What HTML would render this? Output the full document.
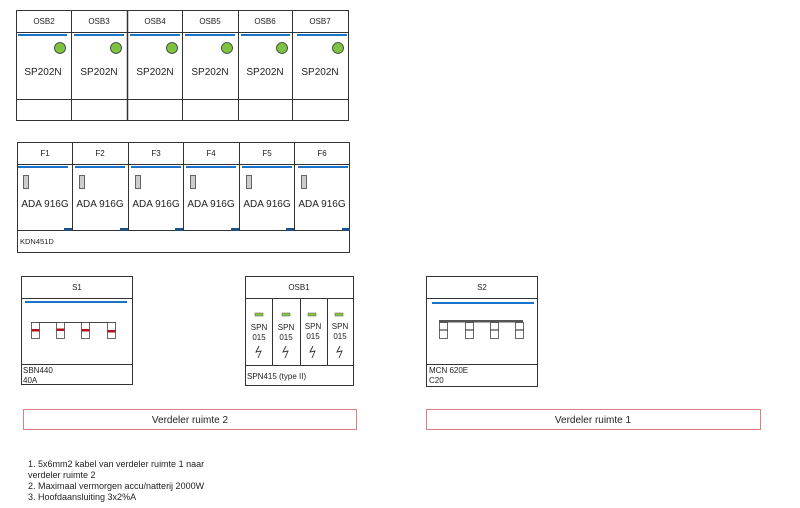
<!DOCTYPE html>
<html><head><meta charset="utf-8"><style>
body{margin:0;background:#fff;}
svg{display:block;font-family:"Liberation Sans",sans-serif;}
text{fill:#222;}
</style></head><body>
<svg width="800" height="508" viewBox="0 0 800 508" xmlns="http://www.w3.org/2000/svg">
<g fill="none" stroke="#333" stroke-width="1">
<!-- top block -->
<rect x="16.5" y="10.5" width="332" height="110"/>
<line x1="16" y1="32.5" x2="349" y2="32.5"/>
<line x1="16" y1="99.5" x2="349" y2="99.5"/>
<line x1="71.5" y1="10" x2="71.5" y2="120"/>
<line x1="127.5" y1="10" x2="127.5" y2="120" stroke-width="1.5"/>
<line x1="182.5" y1="10" x2="182.5" y2="120"/>
<line x1="238.5" y1="10" x2="238.5" y2="120"/>
<line x1="292.5" y1="10" x2="292.5" y2="120"/>
<!-- F block -->
<rect x="17.5" y="142.5" width="332" height="110"/>
<line x1="17" y1="164.5" x2="350" y2="164.5"/>
<line x1="17" y1="230.5" x2="350" y2="230.5"/>
<line x1="72.5" y1="142" x2="72.5" y2="230"/>
<line x1="128.5" y1="142" x2="128.5" y2="230"/>
<line x1="183.5" y1="142" x2="183.5" y2="230"/>
<line x1="239.5" y1="142" x2="239.5" y2="230"/>
<line x1="294.5" y1="142" x2="294.5" y2="230"/>
<!-- S1 -->
<rect x="21.5" y="276.5" width="111" height="108"/>
<line x1="21" y1="298.5" x2="133" y2="298.5"/>
<line x1="21" y1="364.5" x2="133" y2="364.5"/>
<!-- OSB1 -->
<rect x="245.5" y="276.5" width="108" height="109"/>
<line x1="245" y1="298.5" x2="354" y2="298.5"/>
<line x1="245" y1="365.5" x2="354" y2="365.5"/>
<line x1="272.5" y1="298" x2="272.5" y2="365"/>
<line x1="300.5" y1="298" x2="300.5" y2="365"/>
<line x1="327.5" y1="298" x2="327.5" y2="365"/>
<!-- S2 -->
<rect x="426.5" y="276.5" width="111" height="110"/>
<line x1="426" y1="298.5" x2="538" y2="298.5"/>
<line x1="426" y1="364.5" x2="538" y2="364.5"/>
</g>
<!-- red boxes -->
<rect x="23.5" y="409.5" width="333" height="20" fill="none" stroke="#d98080"/>
<rect x="426.5" y="409.5" width="334" height="20" fill="none" stroke="#d98080"/>

<!-- top block contents -->
<g font-size="8" text-anchor="middle">
<text x="44" y="24">OSB2</text><text x="99" y="24">OSB3</text><text x="155" y="24">OSB4</text>
<text x="210" y="24">OSB5</text><text x="265" y="24">OSB6</text><text x="320" y="24">OSB7</text>
</g>
<g stroke="#1a73c8" stroke-width="2">
<line x1="18" y1="35" x2="67" y2="35"/><line x1="74" y1="35" x2="124" y2="35"/>
<line x1="130" y1="35" x2="180" y2="35"/><line x1="185" y1="35" x2="235" y2="35"/>
<line x1="241" y1="35" x2="290" y2="35"/><line x1="297" y1="35" x2="347" y2="35"/>
</g>
<g fill="#7dc242" stroke="#333" stroke-width="0.8">
<circle cx="60" cy="48" r="5.5"/><circle cx="116" cy="48" r="5.5"/><circle cx="172" cy="48" r="5.5"/>
<circle cx="227" cy="48" r="5.5"/><circle cx="282" cy="48" r="5.5"/><circle cx="338" cy="48" r="5.5"/>
</g>
<g font-size="10" text-anchor="middle">
<text x="43" y="75">SP202N</text><text x="99" y="75">SP202N</text><text x="155" y="75">SP202N</text>
<text x="210" y="75">SP202N</text><text x="265" y="75">SP202N</text><text x="320" y="75">SP202N</text>
</g>

<!-- F block contents -->
<g font-size="8" text-anchor="middle">
<text x="45" y="156">F1</text><text x="100" y="156">F2</text><text x="156" y="156">F3</text>
<text x="211" y="156">F4</text><text x="267" y="156">F5</text><text x="322" y="156">F6</text>
</g>
<g stroke="#1a73c8" stroke-width="2">
<line x1="18" y1="167" x2="68" y2="167"/><line x1="75" y1="167" x2="125" y2="167"/>
<line x1="131" y1="167" x2="181" y2="167"/><line x1="186" y1="167" x2="236" y2="167"/>
<line x1="242" y1="167" x2="292" y2="167"/><line x1="298" y1="167" x2="348" y2="167"/>
</g>
<g fill="#ccc" stroke="#444" stroke-width="0.8">
<rect x="23.5" y="175.5" width="5" height="13"/><rect x="79.5" y="175.5" width="5" height="13"/>
<rect x="135.5" y="175.5" width="5" height="13"/><rect x="190.5" y="175.5" width="5" height="13"/>
<rect x="246.5" y="175.5" width="5" height="13"/><rect x="301.5" y="175.5" width="5" height="13"/>
</g>
<g fill="#1d4f8a">
<rect x="64" y="228" width="8" height="3"/><rect x="120" y="228" width="8" height="3"/>
<rect x="175" y="228" width="8" height="3"/><rect x="231" y="228" width="8" height="3"/>
<rect x="286" y="228" width="8" height="3"/><rect x="342" y="228" width="8" height="3"/>
</g>
<g font-size="10" text-anchor="middle">
<text x="45" y="207">ADA 916G</text><text x="100" y="207">ADA 916G</text><text x="156" y="207">ADA 916G</text>
<text x="211" y="207">ADA 916G</text><text x="267" y="207">ADA 916G</text><text x="322" y="207">ADA 916G</text>
</g>
<text x="20" y="244" font-size="7.5">KDN451D</text>

<!-- S1 -->
<text x="77" y="290" font-size="8" text-anchor="middle">S1</text>
<line x1="25" y1="302" x2="127" y2="302" stroke="#1a73c8" stroke-width="2"/>
<line x1="31" y1="322.5" x2="116" y2="322.5" stroke="#444"/>
<g fill="#fff" stroke="#444" stroke-width="0.8">
<rect x="31.5" y="322.5" width="8" height="16"/><rect x="56.5" y="322.5" width="8" height="16"/>
<rect x="81.5" y="322.5" width="8" height="16"/><rect x="107.5" y="322.5" width="8" height="16"/>
</g>
<g fill="#b3121b">
<rect x="31.5" y="329" width="8" height="2.5"/><rect x="56.5" y="328.5" width="8" height="2.5"/>
<rect x="81.5" y="329" width="8" height="2.5"/><rect x="107.5" y="330" width="8" height="2.5"/>
</g>
<text x="23" y="373" font-size="8">SBN440</text>
<text x="23" y="383" font-size="8">40A</text>

<!-- OSB1 -->
<text x="299" y="290" font-size="8" text-anchor="middle">OSB1</text>
<g fill="#8cc63f" stroke="#555" stroke-width="0.5">
<rect x="255" y="313" width="8" height="3"/><rect x="282" y="313" width="8" height="3"/>
<rect x="308" y="313" width="8" height="3"/><rect x="335" y="313" width="8" height="3"/>
</g>
<g font-size="8" text-anchor="middle">
<text x="259" y="330">SPN</text><text x="286" y="330">SPN</text><text x="313" y="329">SPN</text><text x="340" y="329">SPN</text>
<text x="259" y="340">015</text><text x="286" y="340">015</text><text x="313" y="339">015</text><text x="340" y="339">015</text>
</g>
<g fill="none" stroke="#333" stroke-width="0.9">
<path d="M259 346 L256 352 L261 351 L258 358"/><path d="M286 346 L283 352 L288 351 L285 358"/>
<path d="M313 346 L310 352 L315 351 L312 358"/><path d="M340 346 L337 352 L342 351 L339 358"/>
</g>
<text x="247" y="379" font-size="8">SPN415 (type II)</text>

<!-- S2 -->
<text x="482" y="290" font-size="8" text-anchor="middle">S2</text>
<line x1="432" y1="303" x2="534" y2="303" stroke="#1a73c8" stroke-width="2"/>
<rect x="439" y="320" width="84" height="2.5" fill="#555"/>
<g fill="#fff" stroke="#444" stroke-width="0.8">
<rect x="439.5" y="322.5" width="8" height="16"/><rect x="465.5" y="322.5" width="8" height="16"/>
<rect x="490.5" y="322.5" width="8" height="16"/><rect x="515.5" y="322.5" width="8" height="16"/>
</g>
<g stroke="#444" stroke-width="1.2">
<line x1="439" y1="330" x2="448" y2="330"/><line x1="465" y1="330" x2="474" y2="330"/>
<line x1="490" y1="330" x2="499" y2="330"/><line x1="515" y1="330" x2="524" y2="330"/>
</g>
<text x="429" y="373" font-size="8">MCN 620E</text>
<text x="429" y="383" font-size="8">C20</text>

<!-- verdeler labels -->
<text x="190" y="423" font-size="10" text-anchor="middle">Verdeler ruimte 2</text>
<text x="593" y="423" font-size="10" text-anchor="middle">Verdeler ruimte 1</text>

<!-- notes -->
<g font-size="9">
<text x="28" y="467">1. 5x6mm2 kabel van verdeler ruimte 1 naar</text>
<text x="28" y="478">verdeler ruimte 2</text>
<text x="28" y="489">2. Maximaal vermorgen accu/natterij 2000W</text>
<text x="28" y="500">3. Hoofdaansluiting 3x2%A</text>
</g>
</svg>
</body></html>
